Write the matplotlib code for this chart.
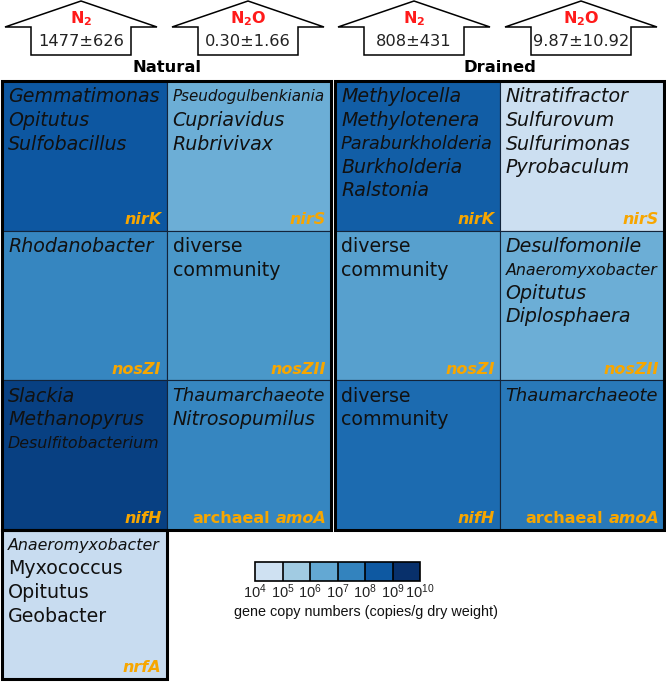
import matplotlib
matplotlib.use('Agg')
import matplotlib.pyplot as plt
from matplotlib.patches import Rectangle, Polygon
from matplotlib.colors import Normalize, ListedColormap, BoundaryNorm
from matplotlib.cm import ScalarMappable

plt.rcParams['mathtext.rm'] = 'Liberation Sans'
plt.rcParams['mathtext.it'] = 'Liberation Sans:italic'
plt.rcParams['mathtext.bf'] = 'Liberation Sans:bold'

# ---- data ----
# genes in each 2x3 block, row by row
genes = ['nirK', 'nirS', 'nosZI', 'nosZII', 'nifH', 'amoA']
sites = ['Natural', 'Drained']
# log10 gene copy numbers (copies/g dry weight)
natural_log = [8.56, 6.35, 7.42, 6.98, 9.12, 7.42]
drained_log = [8.37, 4.59, 6.73, 6.35, 8.05, 7.74]
nrfA_log = 4.71

natural_taxa = [
    ['Gemmatimonas', 'Opitutus', 'Sulfobacillus'],
    ['Pseudogulbenkiania', 'Cupriavidus', 'Rubrivivax'],
    ['Rhodanobacter'],
    ['diverse', 'community'],
    ['Slackia', 'Methanopyrus', 'Desulfitobacterium'],
    ['Thaumarchaeote', 'Nitrosopumilus'],
]
drained_taxa = [
    ['Methylocella', 'Methylotenera', 'Paraburkholderia', 'Burkholderia', 'Ralstonia'],
    ['Nitratifractor', 'Sulfurovum', 'Sulfurimonas', 'Pyrobaculum'],
    ['diverse', 'community'],
    ['Desulfomonile', 'Anaeromyxobacter', 'Opitutus', 'Diplosphaera'],
    ['diverse', 'community'],
    ['Thaumarchaeote'],
]
nrfA_taxa = ['Anaeromyxobacter', 'Myxococcus', 'Opitutus', 'Geobacter']

# emission fluxes shown in the arrows
flux_gas = [r'$\mathbf{N_2}$', r'$\mathbf{N_2O}$', r'$\mathbf{N_2}$', r'$\mathbf{N_2O}$']
flux_vals = ['1477±626', '0.30±1.66', '808±431', '9.87±10.92']

levels = [4, 5, 6, 7, 8, 9, 10]

# ---- colours ----
cmap = plt.cm.Blues
norm = Normalize(vmin=3.2, vmax=9.5, clip=True)
orange = '#F7A600'

fig = plt.figure(figsize=(6.66, 6.84), dpi=100)
ax = fig.add_axes([0, 0, 1, 1])
ax.set_xlim(0, 666)
ax.set_ylim(684, 0)
ax.axis('off')
renderer = fig.canvas.get_renderer()

cw, ch = 164.5, 149.5
top = 81
panel_x = [2, 335]
upright = {'diverse', 'community'}


def fit_text(x, y, s, size, maxw, **kw):
    t = ax.text(x, y, s, fontsize=size, **kw)
    w = t.get_window_extent(renderer).width
    if w > maxw:
        t.set_fontsize(size * maxw / w)
    return t


def gene_label(x, y, g):
    if g == 'amoA':
        t = ax.text(x, y, 'amoA', color=orange, fontsize=11.5, fontweight='bold',
                    fontstyle='italic', ha='right', va='center')
        w = t.get_window_extent(renderer).width
        ax.text(x - w - 5, y, 'archaeal', color=orange, fontsize=11.5,
                fontweight='bold', ha='right', va='center')
    else:
        ax.text(x, y, g, color=orange, fontsize=11.5, fontweight='bold',
                fontstyle='italic', ha='right', va='center')


def draw_cell(x, y, val, taxa, g, italic_lines):
    ax.add_patch(Rectangle((x, y), cw, ch, facecolor=cmap(norm(val)),
                           edgecolor='#13243a', lw=0.8))
    for i, name in enumerate(taxa):
        fit_text(x + 6, y + 16 + i * 23.5, name, 13.7, 152,
                 fontstyle='italic' if italic_lines[i] else 'normal',
                 color='#111111', va='center', ha='left')
    gene_label(x + cw - 5, y + ch - 11, g)


for p, (px, vals, taxa) in enumerate(zip(panel_x, [natural_log, drained_log],
                                         [natural_taxa, drained_taxa])):
    for k, g in enumerate(genes):
        r, c = divmod(k, 2)
        names = taxa[k]
        draw_cell(px + c * cw, top + r * ch, vals[k], names, g,
                  [n not in upright for n in names])
    ax.add_patch(Rectangle((px, top), 2 * cw, 3 * ch, fill=False,
                           edgecolor='black', lw=2.2, zorder=5))
    ax.text(px + cw, 68, sites[p], fontsize=11.8, fontweight='bold',
            ha='center', va='center')
    # house shaped arrows with fluxes
    for a, dx in enumerate([79, 246]):
        cx = px + dx
        pts = [(cx - 50, 55), (cx - 50, 27), (cx - 76, 27), (cx, 1),
               (cx + 76, 27), (cx + 50, 27), (cx + 50, 55)]
        ax.add_patch(Polygon(pts, closed=True, facecolor='white',
                             edgecolor='black', lw=1.1))
        idx = 2 * p + a
        ax.text(cx, 19, flux_gas[idx], color='#FF1A1A', fontsize=11.5,
                ha='center', va='center', math_fontfamily='dejavusans')
        ax.text(cx, 41, flux_vals[idx], fontsize=11.7, ha='center', va='center',
                color='#222222')

# nrfA cell below the natural block
draw_cell(panel_x[0], top + 3 * ch, nrfA_log, nrfA_taxa, 'nrfA',
          [True, False, False, False])
ax.add_patch(Rectangle((panel_x[0], top + 3 * ch), cw, ch, fill=False,
                       edgecolor='black', lw=2.2, zorder=5))

# colour key
mids = [(a + b) / 2 for a, b in zip(levels[:-1], levels[1:])]
key_cmap = ListedColormap([cmap(norm(m)) for m in mids])
sm = ScalarMappable(norm=BoundaryNorm(levels, len(mids)), cmap=key_cmap)
cax = fig.add_axes([255 / 666, 1 - 581 / 684, 165 / 666, 19 / 684])
cb = fig.colorbar(sm, cax=cax, orientation='horizontal', drawedges=True)
cb.outline.set_linewidth(1.2)
cb.dividers.set_linewidth(1.2)
cb.set_ticks(levels)
cb.set_ticklabels([r'$10^{%d}$' % l for l in levels])
cax.tick_params(length=0, labelsize=10.5, pad=1)
for lab in cax.get_xticklabels():
    lab.set_math_fontfamily('custom')
    lab.set_color('#222222')
ax.text(366, 612, 'gene copy numbers (copies/g dry weight)', fontsize=10.4,
        family='Liberation Sans', ha='center', va='center', color='#111111')

fig.savefig('out.png', dpi=100)
